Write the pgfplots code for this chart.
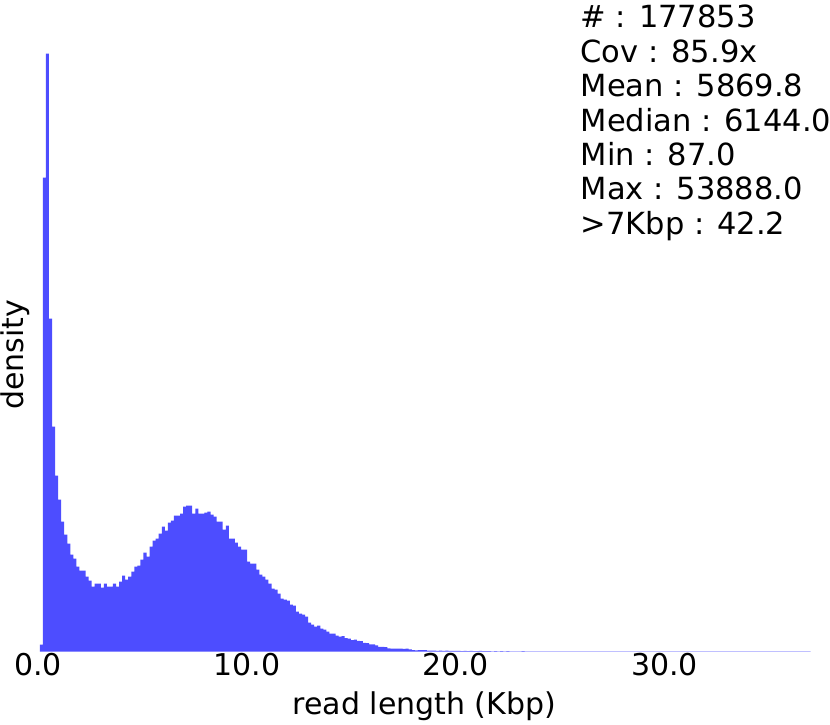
\documentclass[border=0pt]{standalone}
\usepackage{fontspec}
\setmainfont{DejaVu Sans}
\usepackage{pgfplots}
\usepackage{pgfplotstable}
\pgfplotsset{compat=1.18}
\definecolor{barblue}{RGB}{77,77,255}
\newcommand{\bigfont}{\fontsize{30}{36}\selectfont}
\newcommand{\statfont}{\fontsize{30.5}{36}\selectfont}

% read length histogram, bin left edge (Kbp) and height (arbitrary density units)
\pgfplotstableread{
x h
0.087 7
0.233 474
0.379 598
0.525 333
0.671 225
0.817 176
0.963 152
1.109 130
1.255 117
1.401 108
1.547 97
1.693 93
1.839 85
1.985 81
2.131 81
2.277 75
2.423 71
2.569 65
2.715 68
2.861 68
3.007 64
3.153 68
3.299 65
3.445 65
3.591 68
3.737 65
3.883 70
4.029 76
4.175 72
4.321 75
4.467 80
4.613 85
4.759 86
4.905 92
5.051 99
5.197 95
5.343 105
5.489 111
5.635 113
5.781 118
5.927 125
6.073 121
6.219 129
6.365 131
6.511 136
6.657 136
6.803 138
6.949 145
7.095 146
7.241 146
7.387 138
7.533 143
7.679 138
7.825 138
7.971 139
8.117 140
8.263 137
8.409 135
8.555 130
8.701 130
8.847 122
8.993 126
9.139 113
9.285 113
9.431 109
9.577 105
9.723 102
9.869 102
10.015 90
10.161 88
10.307 88
10.453 82
10.599 77
10.745 75
10.891 72
11.037 68
11.183 63
11.329 62
11.475 58
11.621 53
11.767 52
11.913 51
12.059 47
12.205 46
12.351 40
12.497 38
12.643 37
12.789 35
12.935 29
13.081 27
13.227 25
13.373 26
13.519 23
13.665 22
13.811 20
13.957 18
14.103 18
14.249 16
14.395 15
14.541 15.5
14.687 13.5
14.833 13
14.979 11.5
15.125 12
15.271 10.7
15.417 10.5
15.563 8.7
15.709 8.5
15.855 7.4
16.001 7.2
16.147 6.4
16.293 4.8
16.439 4.7
16.585 4.6
16.731 3.4
16.877 3.1
17.023 3.0
17.169 3.1
17.315 3.0
17.461 2.9
17.607 3.0
17.753 2.4
17.899 1.5
18.045 1.4
18.191 1.6
18.337 1.5
18.483 1.5
18.629 1.0
18.775 1.1
18.921 1.0
19.067 0.9
19.213 1.0
19.359 0.8
19.505 1.0
19.651 0.8
19.797 0.9
19.943 0.7
20.089 0.8
20.235 0.6
20.381 0.7
20.527 0.6
20.673 0.8
20.819 0.5
20.965 0.6
21.111 0.7
21.257 0.5
21.403 0.6
21.549 0.5
21.695 0.4
21.841 0.6
21.987 0.4
22.133 0.5
22.279 0.4
22.425 0.5
22.571 0.3
22.717 0.4
22.863 0.4
23.009 0.3
23.155 0.5
23.301 0.3
23.447 0.3
23.593 0.25
23.739 0.3
23.885 0.25
24.031 0.3
24.177 0.25
24.323 0.3
24.469 0.3
24.615 0.25
24.761 0.3
24.907 0.25
25.053 0.3
25.199 0.25
25.345 0.25
25.491 0.3
25.637 0.25
25.783 0.25
25.929 0.3
26.075 0.2
26.221 0.25
26.367 0.3
26.513 0.25
26.659 0.25
26.805 0.2
26.951 0.25
27.097 0.3
27.243 0.25
27.389 0.2
27.535 0.25
27.681 0.25
27.827 0.2
27.973 0.25
28.119 0.3
28.265 0.2
28.411 0.25
28.557 0.2
28.703 0.25
28.849 0.2
28.995 0.2
29.141 0.25
29.287 0.2
29.433 0.2
29.579 0.25
29.725 0.2
29.871 0.2
30.017 0.25
30.163 0.2
30.309 0.2
30.455 0.2
30.601 0.25
30.747 0.2
30.893 0.2
31.039 0.2
31.185 0.2
31.331 0.25
31.477 0.2
31.623 0.2
31.769 0.2
31.915 0.2
32.061 0.2
32.207 0.2
32.353 0.2
32.499 0.2
32.645 0.2
32.791 0.2
32.937 0.2
33.083 0.2
33.229 0.2
33.375 0.2
33.521 0.2
33.667 0.2
33.813 0.2
33.959 0.2
34.105 0.2
34.251 0.2
34.397 0.2
34.543 0.2
34.689 0.2
34.835 0.2
34.981 0.2
35.127 0.2
35.273 0.2
35.419 0.2
35.565 0.2
35.711 0.2
35.857 0.2
36.003 0.2
36.149 0.2
36.295 0.2
36.441 0.2
36.587 0.2
36.733 0.2
36.879 0.2
37.025 0.2
37.171 0.2
}\histdata

\begin{document}
\begin{tikzpicture}
\useasboundingbox (0,0) rectangle (830pt,725pt);
\begin{axis}[
    at={(38pt,73.3pt)}, anchor=south west,
    scale only axis,
    width=772.6pt, height=600pt,
    xmin=0, xmax=37, ymin=0, ymax=600,
    axis line style={draw=none},
    tick style={draw=none},
    ytick=\empty,
    xtick={0,10,20,30},
    xticklabels={0.0,10.0,20.0,30.0},
    xticklabel style={font=\bigfont, anchor=base, yshift=-24.3pt},
    xlabel={read length (Kbp)},
    ylabel={density},
    xlabel style={font=\bigfont, at={(axis description cs:0.5,-0.1055)}, anchor=base},
    ylabel style={font=\bigfont, at={(axis description cs:-0.0194,0.495)}, anchor=base, rotate=0},
    clip=true,
]
\addplot[ybar interval, fill=barblue, draw=none] table[x=x, y=h] {\histdata};
\end{axis}
\node[font=\statfont, anchor=base west, inner sep=0pt] at (580.5pt,697pt) {\# : 177853};
\node[font=\statfont, anchor=base west, inner sep=0pt] at (580.5pt,662.6pt) {Cov : 85.9x};
\node[font=\statfont, anchor=base west, inner sep=0pt] at (580.5pt,628.2pt) {Mean : 5869.8};
\node[font=\statfont, anchor=base west, inner sep=0pt] at (580.5pt,593.8pt) {Median : 6144.0};
\node[font=\statfont, anchor=base west, inner sep=0pt] at (580.5pt,559.4pt) {Min : 87.0};
\node[font=\statfont, anchor=base west, inner sep=0pt] at (580.5pt,525pt) {Max : 53888.0};
\node[font=\statfont, anchor=base west, inner sep=0pt] at (580.5pt,490.6pt) {>7Kbp : 42.2};
\end{tikzpicture}
\end{document}
